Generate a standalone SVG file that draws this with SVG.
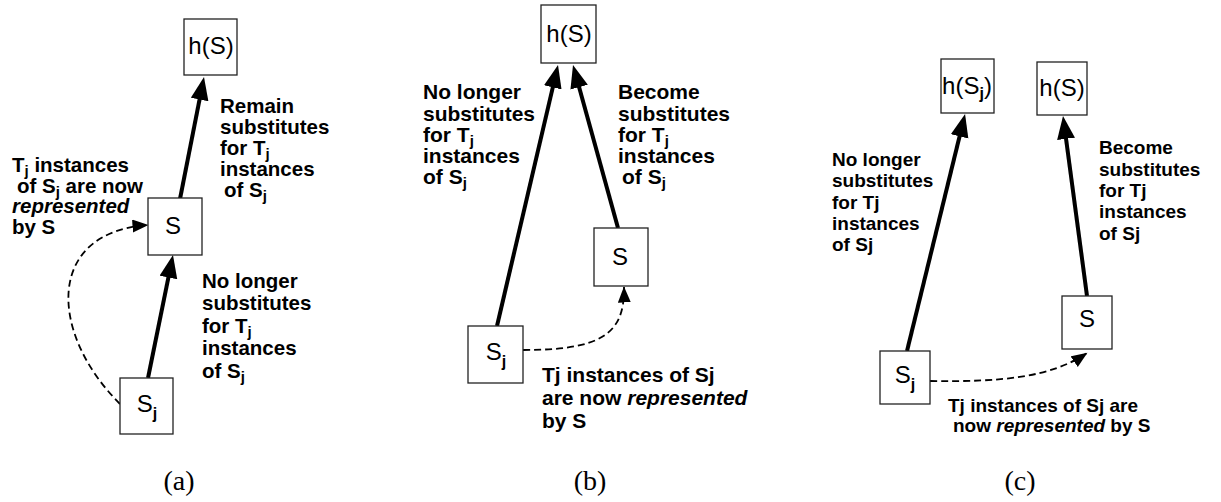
<svg xmlns="http://www.w3.org/2000/svg" width="1221" height="502" viewBox="0 0 1221 502">
  <style>
    .box { fill: #fff; stroke: #222; stroke-width: 1.3; }
    .nl { font-family: "Liberation Sans", Arial, sans-serif; font-size: 24px; fill: #000; text-anchor: middle; }
    .nl .sub { font-size: 16px; font-weight: bold; }
    .lbl { font-family: "Liberation Sans", Arial, sans-serif; font-weight: bold; fill: #000; }
    .la { font-size: 20.5px; }
    .lb { font-size: 21px; }
    .lc { font-size: 19px; }
    .lbl .sub { font-size: 15px; }
    .it { font-style: italic; }
    .cap { font-family: "Liberation Serif", "Times New Roman", serif; font-size: 28px; fill: #000; text-anchor: middle; }
    .solid { fill: none; stroke: #000; stroke-width: 4; marker-end: url(#headSolid); }
    .dash { fill: none; stroke: #000; stroke-width: 1.8; stroke-dasharray: 7 4; marker-end: url(#headDash); }
  </style>
  <defs>
    <marker id="headSolid" markerUnits="userSpaceOnUse" markerWidth="26" markerHeight="20" refX="8" refY="9" orient="auto">
      <path d="M0,0 L23,9 L0,18 z" fill="#000"/>
    </marker>
    <marker id="headDash" markerUnits="userSpaceOnUse" markerWidth="18" markerHeight="14" refX="15.5" refY="6.5" orient="auto">
      <path d="M0,0 L16,6.5 L0,13 z" fill="#000"/>
    </marker>
  </defs>

  <!-- connectors -->
  <g id="connectors">
    <!-- (a) -->
    <line class="solid" x1="180" y1="199" x2="201.1" y2="91.7"/>
    <line class="solid" x1="148" y1="378" x2="170" y2="269.7"/>
    <path class="dash" d="M120,404 C48,332 46,232 148,225"/>
    <!-- (b) -->
    <line class="solid" x1="497" y1="326" x2="554.6" y2="79.6"/>
    <line class="solid" x1="618" y1="228" x2="577" y2="79.5"/>
    <path class="dash" d="M523,350 C600,350 625,335 624,287"/>
    <!-- (c) -->
    <line class="solid" x1="907" y1="351" x2="961.5" y2="128.6"/>
    <line class="solid" x1="1087" y1="296" x2="1065" y2="130.9"/>
    <path class="dash" d="M930,381 C1000,382 1050,378 1087,353"/>
  </g>

  <!-- panel (a) nodes -->
  <g id="a-hS">
    <rect class="box" x="184" y="19" width="53" height="56"/>
    <text class="nl" x="211" y="54">h(S)</text>
  </g>
  <g id="a-S">
    <rect class="box" x="148" y="198" width="54" height="57"/>
    <text class="nl" x="173" y="234">S</text>
  </g>
  <g id="a-Sj">
    <rect class="box" x="120" y="378" width="53" height="56"/>
    <text class="nl" x="147" y="412">S<tspan class="sub" dy="6.5">j</tspan></text>
  </g>

  <!-- panel (b) nodes -->
  <g id="b-hS">
    <rect class="box" x="541" y="5" width="55" height="58"/>
    <text class="nl" x="569" y="42">h(S)</text>
  </g>
  <g id="b-S">
    <rect class="box" x="594" y="228" width="54" height="58"/>
    <text class="nl" x="620" y="265">S</text>
  </g>
  <g id="b-Sj">
    <rect class="box" x="468" y="326" width="55" height="57"/>
    <text class="nl" x="496" y="360">S<tspan class="sub" dy="6.5">j</tspan></text>
  </g>

  <!-- panel (c) nodes -->
  <g id="c-hSj">
    <rect class="box" x="941" y="59" width="53" height="54"/>
    <text class="nl" x="967" y="94">h(S<tspan class="sub" dy="5">j</tspan><tspan dy="-5">)</tspan></text>
  </g>
  <g id="c-hS">
    <rect class="box" x="1037" y="62" width="50" height="53"/>
    <text class="nl" x="1062" y="96">h(S)</text>
  </g>
  <g id="c-S">
    <rect class="box" x="1062" y="296" width="50" height="53"/>
    <text class="nl" x="1087" y="327">S</text>
  </g>
  <g id="c-Sj">
    <rect class="box" x="880" y="351" width="50" height="53"/>
    <text class="nl" x="905" y="383">S<tspan class="sub" dy="6.5">j</tspan></text>
  </g>

  <!-- panel (a) labels -->
  <g id="a-labels" class="lbl la">
    <text x="12" y="172">T<tspan class="sub" dy="4">j</tspan><tspan dy="-4"> instances</tspan></text>
    <text x="17" y="193">of S<tspan class="sub" dy="4">j</tspan><tspan dy="-4"> are now</tspan></text>
    <text x="12" y="213" class="it">represented</text>
    <text x="12" y="234">by S</text>

    <text x="220" y="112.5">Remain</text>
    <text x="220" y="133.5">substitutes</text>
    <text x="220" y="154.5">for T<tspan class="sub" dy="4">j</tspan></text>
    <text x="220" y="175.5">instances</text>
    <text x="224" y="196.5">of S<tspan class="sub" dy="4">j</tspan></text>

    <text x="202" y="287.5">No longer</text>
    <text x="202" y="310">substitutes</text>
    <text x="202" y="332.5">for T<tspan class="sub" dy="4">j</tspan></text>
    <text x="202" y="355">instances</text>
    <text x="202" y="377.5">of S<tspan class="sub" dy="4">j</tspan></text>
  </g>

  <!-- panel (b) labels -->
  <g id="b-labels" class="lbl lb">
    <text x="423" y="99">No longer</text>
    <text x="423" y="120.5">substitutes</text>
    <text x="423" y="141.5">for T<tspan class="sub" dy="4">j</tspan></text>
    <text x="423" y="163">instances</text>
    <text x="423" y="184">of S<tspan class="sub" dy="4">j</tspan></text>

    <text x="618" y="99">Become</text>
    <text x="618" y="120.5">substitutes</text>
    <text x="618" y="141.5">for T<tspan class="sub" dy="4">j</tspan></text>
    <text x="618" y="163">instances</text>
    <text x="622" y="184">of S<tspan class="sub" dy="4">j</tspan></text>

    <text x="542" y="382">Tj instances of Sj</text>
    <text x="542" y="405">are now <tspan class="it">represented</tspan></text>
    <text x="542" y="428">by S</text>
  </g>

  <!-- panel (c) labels -->
  <g id="c-labels" class="lbl lc">
    <text x="832" y="166">No longer</text>
    <text x="832" y="187">substitutes</text>
    <text x="832" y="208.5">for Tj</text>
    <text x="832" y="229.5">instances</text>
    <text x="832" y="250.8">of Sj</text>

    <text x="1099" y="154">Become</text>
    <text x="1099" y="175.5">substitutes</text>
    <text x="1099" y="196.8">for Tj</text>
    <text x="1099" y="218.3">instances</text>
    <text x="1099" y="239.5">of Sj</text>

    <text x="948" y="412">Tj instances of Sj are</text>
    <text x="953" y="432">now <tspan class="it">represented</tspan> by S</text>
  </g>

  <!-- captions -->
  <g id="captions">
    <text class="cap" x="179" y="490">(a)</text>
    <text class="cap" x="590" y="490">(b)</text>
    <text class="cap" x="1020" y="490">(c)</text>
  </g>
</svg>
